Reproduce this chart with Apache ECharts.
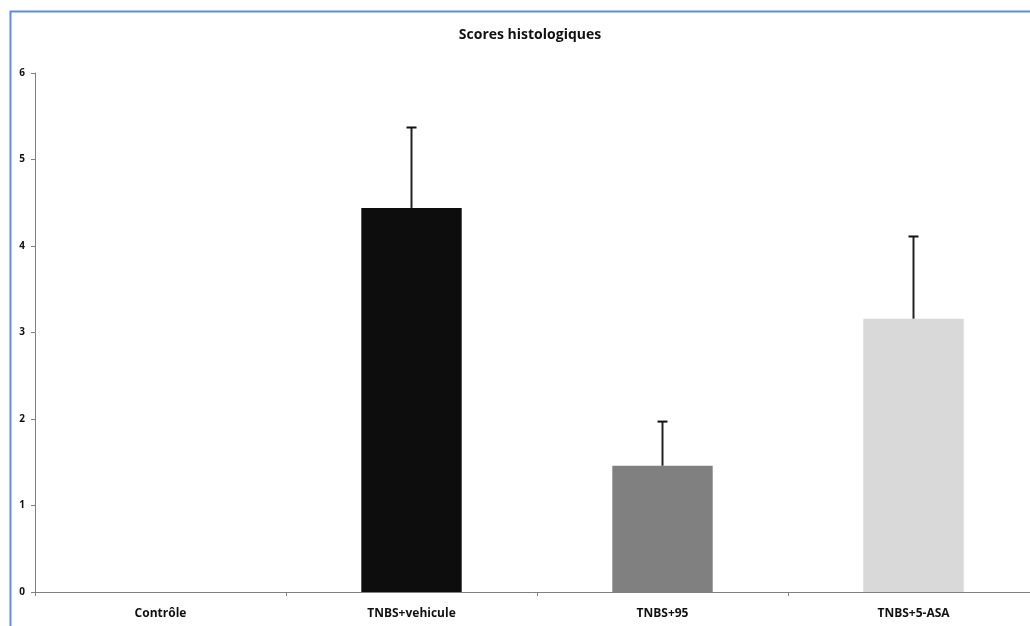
<!DOCTYPE html>
<html>
<head>
<meta charset="utf-8">
<script src="https://cdn.jsdelivr.net/npm/echarts@6/dist/echarts.min.js"></script>
<style>
  html, body { margin: 0; padding: 0; background: #fff; }
  #chart { width: 1030px; height: 626px; }
</style>
</head>
<body>
<div id="chart"></div>
<script>
// categories and values
var categories = ["Contrôle", "TNBS+vehicule", "TNBS+95", "TNBS+5-ASA"];
var scores = [0, 4.44, 1.46, 3.16];
var errorTop = [0, 5.37, 1.97, 4.11];
var barColors = ["#ffffff", "#0d0d0d", "#808080", "#d9d9d9"];
var yTicks = [0, 1, 2, 3, 4, 5, 6];

var font = "'Open Sans', 'DejaVu Sans', sans-serif";

// error bar: vertical line from bar top + cap at the top only
function renderError(params, api) {
  var idx = api.value(0);
  if (!api.value(2)) return;
  var base = api.coord([idx, api.value(1)]);
  var top = api.coord([idx, api.value(2)]);
  return {
    type: "group",
    children: [
      { type: "line", shape: { x1: base[0], y1: base[1], x2: top[0], y2: top[1] },
        style: { stroke: "#222", lineWidth: 2 } },
      { type: "line", shape: { x1: top[0] - 5, y1: top[1], x2: top[0] + 5, y2: top[1] },
        style: { stroke: "#111", lineWidth: 2 } }
    ]
  };
}

var dom = echarts.init(document.getElementById("chart"));
dom.setOption({
  animation: false,
  title: {
    text: "Scores histologiques",
    left: 525,
    top: 23,
    textAlign: "center",
    textStyle: { fontFamily: font, fontSize: 14, fontWeight: "bold", color: "#111" }
  },
  graphic: [{
    type: "rect",
    shape: { x: 10.5, y: 11.5, width: 1060, height: 660 },
    style: { fill: null, stroke: "#5b8fd9", lineWidth: 2 },
    z: 100
  }],
  grid: { left: 35, width: 1004, top: 73, height: 519, containLabel: false, outerBoundsMode: "none" },
  xAxis: {
    type: "category",
    data: categories,
    axisLine: { lineStyle: { color: "#7f7f7f", width: 1 } },
    axisTick: { show: true, length: 4, lineStyle: { color: "#7f7f7f" } },
    axisLabel: { fontFamily: font, fontSize: 12, fontWeight: "bold", color: "#111", margin: 16 }
  },
  yAxis: {
    type: "value",
    min: 0,
    max: yTicks[yTicks.length - 1],
    interval: 1,
    splitLine: { show: false },
    axisLine: { show: true, lineStyle: { color: "#7f7f7f", width: 1 } },
    axisTick: { show: true, length: 4, lineStyle: { color: "#7f7f7f" } },
    axisLabel: { fontFamily: font, fontSize: 10, fontWeight: "bold", color: "#111", margin: 10 }
  },
  series: [{
    type: "bar",
    barWidth: "40%",
    data: scores.map(function (v, i) {
      return { value: v, itemStyle: { color: barColors[i] } };
    })
  }, {
    type: "custom",
    renderItem: renderError,
    data: scores.map(function (v, i) { return [i, v, errorTop[i]]; }),
    z: 10
  }]
});
dom.resize();
</script>
</body>
</html>
